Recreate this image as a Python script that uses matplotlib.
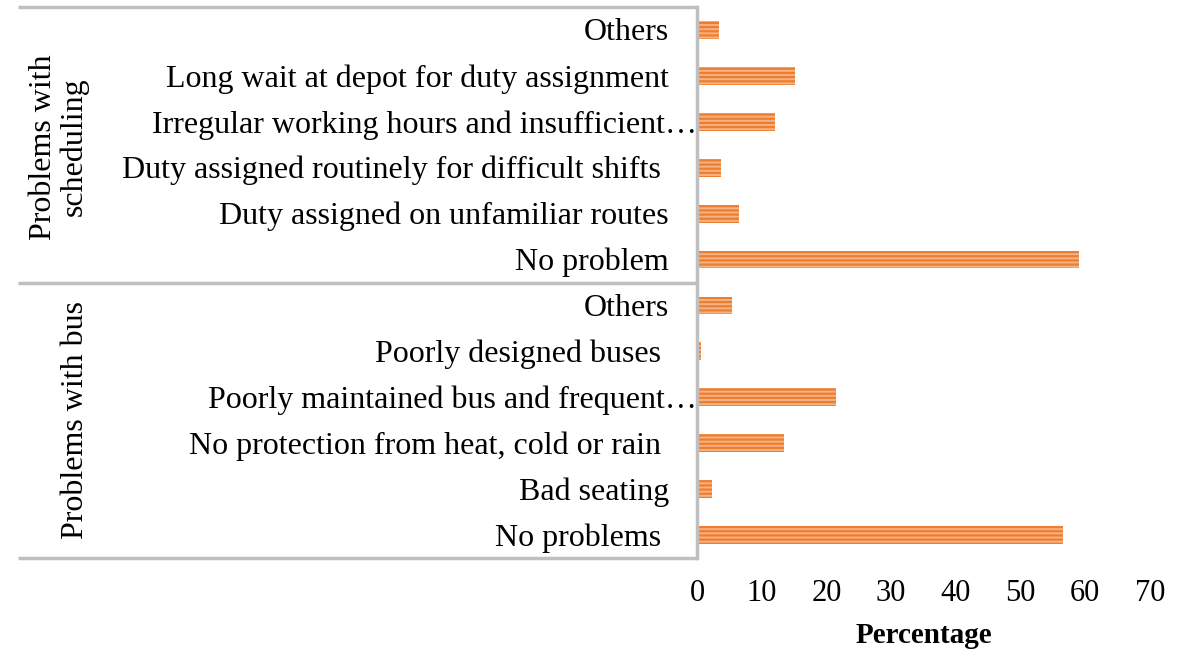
import matplotlib.pyplot as plt
import matplotlib.transforms as mtransforms
import numpy as np

plt.rcParams['font.family'] = ['Liberation Serif', 'DejaVu Serif']
plt.rcParams['hatch.linewidth'] = 1.6

# ----------------------------------------------------------------
# data (bottom to top, as drawn)
# ----------------------------------------------------------------
bus_labels = ['No problems ', 'Bad seating', 'No protection from heat, cold or rain ',
              'Poorly maintained bus and frequent\u2026', 'Poorly designed buses ', 'Others']
bus_vals = [56.5, 2.3, 13.5, 21.5, 0.6, 5.4]

sched_labels = ['No problem', 'Duty assigned on unfamiliar routes',
                'Duty assigned routinely for difficult shifts ',
                'Irregular working hours and insufficient\u2026',
                'Long wait at depot for duty assignment', 'Others']
sched_vals = [59.0, 6.5, 3.7, 12.1, 15.2, 3.4]

group_names = ['Problems with bus', 'Problems with\nscheduling']

labels = bus_labels + sched_labels
vals = bus_vals + sched_vals
y = np.arange(len(labels))

fs = 23

fig = plt.figure(figsize=(11.78, 6.62), dpi=100)
ax = fig.add_axes([697/1178, 1 - 558/662, 453/1178, 551/662])

ax.barh(y, vals, height=0.39, color='#F6B283', edgecolor='#ED7D31',
        linewidth=0, hatch='----')

ax.set_xlim(0, 70)
ax.set_ylim(-0.5, len(labels) - 0.5)
ax.set_xticks(np.arange(0, 71, 10))
ax.tick_params(axis='x', length=0, pad=15, labelsize=fs - 1)
ax.set_yticks([])
for s in ['top', 'right', 'bottom']:
    ax.spines[s].set_visible(False)
ax.spines['left'].set_color('#BFBFBF')
ax.spines['left'].set_linewidth(2.5)
ax.set_xlabel('Percentage', fontsize=fs - 2, fontweight='bold', labelpad=10)

# category labels
for yi, lab in zip(y, labels):
    off = 0 if lab.endswith('\u2026') else -28
    tr = mtransforms.offset_copy(ax.get_yaxis_transform(), fig=fig, x=off, y=-3, units='dots')
    ax.text(0, yi, lab, transform=tr, ha='right', va='center', fontsize=fs)

# group separators
btr = ax.get_yaxis_transform()
for yl in [-0.5, 5.5, 11.5]:
    ax.plot([-1.5, 0], [yl, yl], transform=btr, color='#BFBFBF', lw=2.5,
            clip_on=False, solid_capstyle='butt')

ax.text(-1.373, 2.5, group_names[0], transform=btr, rotation=90,
        ha='center', va='center', fontsize=fs)
ax.text(-1.408, 8.45, group_names[1], transform=btr, rotation=90,
        ha='center', va='center', fontsize=fs, linespacing=1.05)

plt.savefig('out.png', dpi=100)
